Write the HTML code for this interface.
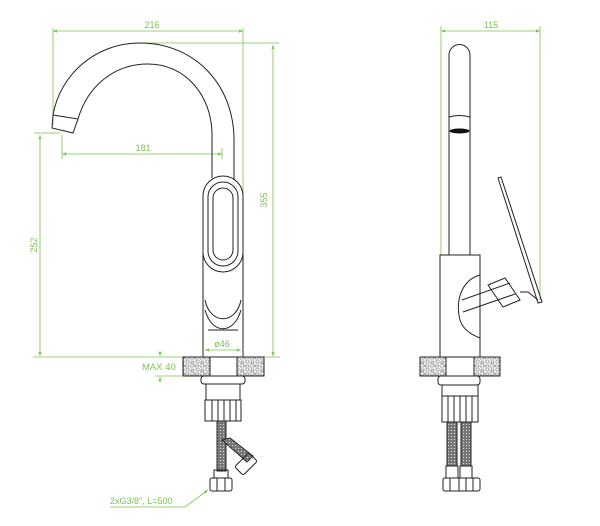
<!DOCTYPE html>
<html><head><meta charset="utf-8"><style>
html,body{margin:0;padding:0;background:#fff;}
svg{display:block;}
text{font-family:"Liberation Sans",sans-serif;fill:#7cc353;font-size:9px;}
</style></head><body>
<svg width="600" height="526" viewBox="0 0 600 526" xmlns="http://www.w3.org/2000/svg">
<defs>
<pattern id="st" width="10" height="8" patternUnits="userSpaceOnUse">
<rect width="10" height="8" fill="#fff"/>
<path d="M1 1h3v2h-3zM6 0h3v3h-3zM0 4h4v3h-4zM5 5h4v2h-4z" fill="none" stroke="#555" stroke-width="0.5"/>
</pattern>
<pattern id="br" width="3" height="3" patternUnits="userSpaceOnUse">
<rect width="3" height="3" fill="#777"/><rect x="1" y="1" width="1" height="1" fill="#ddd"/>
</pattern>
<marker id="a" markerWidth="6" markerHeight="6" refX="5" refY="3" orient="auto-start-reverse"><path d="M0 1L5 3L0 5z" fill="#7cc353"/></marker>
</defs>
<g stroke="#7cc353" stroke-width="0.8" fill="none">
<line x1="53" y1="31" x2="243" y2="31" marker-start="url(#a)" marker-end="url(#a)"/>
<line x1="53" y1="28" x2="53" y2="125"/>
<line x1="243" y1="28" x2="243" y2="270"/>
<line x1="140" y1="43" x2="279" y2="43"/>
<line x1="273" y1="45" x2="273" y2="356" marker-start="url(#a)" marker-end="url(#a)"/>
<line x1="62" y1="154" x2="222" y2="154" marker-start="url(#a)" marker-end="url(#a)"/>
<line x1="62" y1="135" x2="62" y2="159"/>
<line x1="222" y1="148" x2="222" y2="159"/>
<line x1="34" y1="133" x2="60" y2="133"/>
<line x1="40" y1="135" x2="40" y2="356" marker-start="url(#a)" marker-end="url(#a)"/>
<line x1="33" y1="357" x2="280" y2="357"/>
<line x1="205" y1="350" x2="241" y2="350" marker-start="url(#a)" marker-end="url(#a)"/>
<line x1="160" y1="351" x2="160" y2="356" marker-end="url(#a)"/>
<line x1="160" y1="382" x2="160" y2="377" marker-end="url(#a)"/>
<line x1="155" y1="376" x2="182" y2="376"/>
<polyline points="110,507 185,507 208,490" marker-end="url(#a)"/>
<line x1="441" y1="31" x2="540" y2="31" marker-start="url(#a)" marker-end="url(#a)"/>
<line x1="441" y1="26" x2="441" y2="255"/>
<line x1="540" y1="26" x2="540" y2="300"/>
</g>
<text x="152" y="28" text-anchor="middle">216</text>
<text x="143" y="151" text-anchor="middle">181</text>
<text x="222" y="347" text-anchor="middle">ø46</text>
<text x="142" y="370" style="font-size:9.5px">MAX 40</text>
<text x="110" y="504" style="font-size:9px">2xG3/8", L=500</text>
<text x="491" y="28" text-anchor="middle">115</text>
<text transform="translate(267,200) rotate(-90)" text-anchor="middle">355</text>
<text transform="translate(37,245) rotate(-90)" text-anchor="middle">252</text>

<g stroke="#222" stroke-width="1" fill="none">
<path d="M53 115 C60 75 95 43 140 43 C195 43 234 85 234 140 L234 180"/>
<path d="M78 119 C88 85 115 64 148 64 C185 64 212 95 212 135 L212 178"/>
<path d="M53 115 L78 119 L73 133 L52 128 Z"/>
<rect x="203" y="176" width="40" height="96" rx="20"/>
<rect x="208" y="182" width="30" height="84" rx="15"/>
<rect x="213" y="188" width="20" height="72" rx="10"/>
<path d="M203 250 L203 357 M243 250 L243 357"/>
<path d="M205 300 C210 325 236 325 241 300"/>
<path d="M205 310 C212 335 234 335 241 310"/>
<path d="M208 330 L238 330"/>
<rect x="183" y="357" width="81" height="19" fill="url(#st)"/>
<rect x="210" y="357" width="27" height="19" fill="#fff"/>
<rect x="201" y="376" width="44" height="8" rx="3"/>
<rect x="206" y="384" width="34" height="16"/>
<rect x="205" y="400" width="36" height="21"/>
<path d="M212 400v21M218 400v21M224 400v21M230 400v21M236 400v21"/>
<rect x="217" y="421" width="9" height="50" fill="url(#br)"/>
<path d="M222 440 L247 462 L253 456 L230 438 Z" fill="url(#br)"/>
<rect x="214" y="470" width="14" height="8"/>
<rect x="210" y="478" width="22" height="13" rx="2"/>
<path d="M217 478v13M225 478v13"/>
<rect x="236" y="458" width="20" height="12" rx="2" transform="rotate(-45 246 464)"/>
<path d="M449 255 L449 55 A10.5 10.5 0 0 1 470 55 L470 255"/>
<path d="M449 117 Q459 114 470 117"/>
<rect x="440" y="255" width="40" height="102"/>
<path d="M480 275 C462 280 455 300 460 320 C463 330 472 335 480 338"/>
<path d="M462 300 L510 283 M463 312 L515 294"/>
<path d="M488 285 L505 278 L520 300 L503 307 Z"/>
<path d="M520 292 L528 292 L538 300"/>
<path d="M498 178 L501 177 L542 302 L538 303 Z"/>
<rect x="420" y="357" width="80" height="19" fill="url(#st)"/>
<rect x="446" y="357" width="28" height="19" fill="#fff"/>
<rect x="438" y="376" width="42" height="9" rx="3"/>
<rect x="442" y="385" width="36" height="11"/>
<rect x="442" y="396" width="36" height="26"/>
<path d="M448 396v26M454 396v26M460 396v26M466 396v26M472 396v26"/>
<rect x="447" y="422" width="10" height="44" fill="url(#br)"/>
<rect x="461" y="422" width="10" height="44" fill="url(#br)"/>
<rect x="446" y="466" width="12" height="12"/><rect x="460" y="466" width="12" height="12"/>
<rect x="443" y="478" width="37" height="13" rx="2"/>
<path d="M450 478v13M459 478v13M466 478v13M473 478v13"/>
</g>
<ellipse cx="459.5" cy="131" rx="10" ry="2.5" fill="#111"/>
</svg>
</body></html>
